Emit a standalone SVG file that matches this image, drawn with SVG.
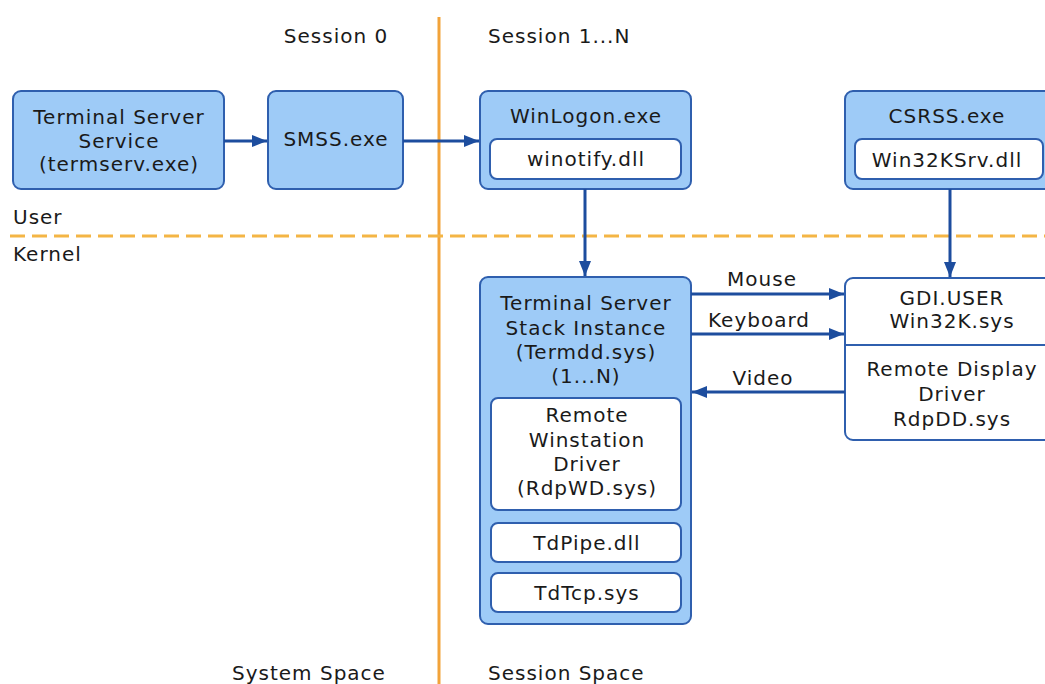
<svg xmlns="http://www.w3.org/2000/svg" width="1045" height="684" viewBox="0 0 1045 684">
<defs>
<style>
text{font-family:"DejaVu Sans","Verdana",sans-serif;font-size:20px;fill:#1a1a1a;letter-spacing:1px}
.c{text-anchor:middle}
.box{fill:#9ecbf7;stroke:#2f5fae;stroke-width:2}
.inner{fill:#ffffff;stroke:#2f5fae;stroke-width:2}
.wbox{fill:#ffffff;stroke:#2f5fae;stroke-width:2}
.arr{stroke:#1d4d9e;stroke-width:3;fill:none;marker-end:url(#ah)}
.sep{stroke:#f2a33a;stroke-width:3}
.dash{stroke:#f4b545;stroke-width:3;stroke-dasharray:15 7}
</style>
<marker id="ah" markerWidth="5" markerHeight="4" refX="5" refY="2" orient="auto" markerUnits="strokeWidth">
<path d="M0,0 L5,2 L0,4 Z" fill="#1d4d9e"/>
</marker>
</defs>
<rect width="1045" height="684" fill="#ffffff"/>

<g id="separators">
<line class="sep" x1="439" y1="17" x2="439" y2="684"/>
<line class="dash" x1="10" y1="236" x2="1045" y2="236"/>
</g>

<g id="labels">
<text class="c" x="336" y="43">Session 0</text>
<text x="488" y="43">Session 1...N</text>
<text x="13" y="224">User</text>
<text x="13" y="261">Kernel</text>
<text x="232" y="680">System Space</text>
<text x="488" y="680">Session Space</text>
</g>

<g id="tss">
<rect class="box" x="13" y="91" width="211" height="98" rx="8"/>
<text class="c" x="119" y="124">Terminal Server</text>
<text class="c" x="119" y="148">Service</text>
<text class="c" x="119" y="171">(termserv.exe)</text>
</g>

<g id="smss">
<rect class="box" x="268" y="91" width="135" height="98" rx="8"/>
<text class="c" x="336" y="146">SMSS.exe</text>
</g>

<g id="winlogon">
<rect class="box" x="480" y="91" width="211" height="98" rx="8"/>
<text class="c" x="586" y="123">WinLogon.exe</text>
<rect class="inner" x="490" y="139" width="191" height="40" rx="7"/>
<text class="c" x="586" y="166">winotify.dll</text>
</g>

<g id="csrss">
<rect class="box" x="845" y="91" width="207" height="98" rx="8"/>
<text class="c" x="947" y="123">CSRSS.exe</text>
<rect class="inner" x="855" y="139" width="188" height="40" rx="7"/>
<text class="c" x="947" y="167">Win32KSrv.dll</text>
</g>

<g id="tsstack">
<rect class="box" x="480" y="277" width="211" height="347" rx="8"/>
<text class="c" x="586" y="310">Terminal Server</text>
<text class="c" x="586" y="335">Stack Instance</text>
<text class="c" x="586" y="359">(Termdd.sys)</text>
<text class="c" x="586" y="383">(1...N)</text>
<rect class="inner" x="491" y="398" width="190" height="112" rx="7"/>
<text class="c" x="587" y="422">Remote</text>
<text class="c" x="587" y="447">Winstation</text>
<text class="c" x="587" y="471">Driver</text>
<text class="c" x="587" y="495">(RdpWD.sys)</text>
<rect class="inner" x="491" y="523" width="190" height="39" rx="7"/>
<text class="c" x="587" y="550">TdPipe.dll</text>
<rect class="inner" x="491" y="573" width="190" height="39" rx="7"/>
<text class="c" x="587" y="600">TdTcp.sys</text>
</g>

<g id="gdi">
<rect class="wbox" x="845" y="278" width="214" height="162" rx="8"/>
<line x1="845" y1="345" x2="1045" y2="345" stroke="#2f5fae" stroke-width="2"/>
<text class="c" x="952" y="305">GDI.USER</text>
<text class="c" x="952" y="328">Win32K.sys</text>
<text class="c" x="952" y="376">Remote Display</text>
<text class="c" x="952" y="401">Driver</text>
<text class="c" x="952" y="426">RdpDD.sys</text>
</g>

<g id="connectors">
<line class="arr" x1="224" y1="141" x2="267" y2="141"/>
<line class="arr" x1="403" y1="141" x2="479" y2="141"/>
<line class="arr" x1="585" y1="189" x2="585" y2="276"/>
<line class="arr" x1="950" y1="189" x2="950" y2="277"/>
<line class="arr" x1="691" y1="294" x2="844" y2="294"/>
<line class="arr" x1="691" y1="334" x2="844" y2="334"/>
<line class="arr" x1="845" y1="392" x2="692" y2="392"/>
<text class="c" x="762" y="286">Mouse</text>
<text class="c" x="759" y="327">Keyboard</text>
<text class="c" x="763" y="385">Video</text>
</g>
</svg>
